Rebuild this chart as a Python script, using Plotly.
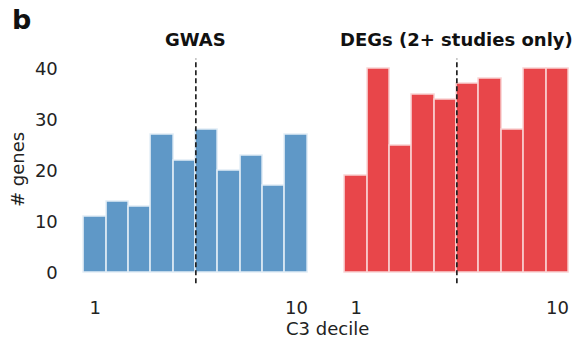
import plotly.graph_objects as go

deciles = list(range(1, 11))
gwas_counts = [11, 14, 13, 27, 22, 28, 20, 23, 17, 27]
deg_counts = [19, 40, 25, 35, 34, 37, 38, 28, 40, 40]
titles = ["GWAS", "DEGs (2+ studies only)"]
split = 5.5

BLUE = "#5f98c7"
RED = "#e8464a"
FONT = "DejaVu Sans"

fig = go.Figure()
fig.add_trace(go.Bar(x=deciles, y=gwas_counts, width=1, xaxis="x", yaxis="y",
                     marker=dict(color=BLUE, line=dict(color="#e2edf6", width=1.5))))
fig.add_trace(go.Bar(x=deciles, y=deg_counts, width=1, xaxis="x2", yaxis="y2",
                     marker=dict(color=RED, line=dict(color="#f9d3d4", width=1.5))))

ydom = [0.172, 0.828]
xcommon = dict(range=[0, 11], tickvals=[1, 10], ticktext=["1", "10"], showgrid=False,
               zeroline=False, showline=False, ticks="", ticklabelstandoff=12,
               tickfont=dict(family=FONT, size=18, color="#222"))
fig.update_layout(
    width=584, height=342, margin=dict(l=0, r=0, t=0, b=0),
    plot_bgcolor="white", paper_bgcolor="white", showlegend=False, bargap=0,
    font=dict(family=FONT, color="#222"),
    xaxis=dict(domain=[0.1247, 0.546], anchor="y", **xcommon),
    xaxis2=dict(domain=[0.5716, 0.993], anchor="y2", **xcommon),
    yaxis=dict(domain=ydom, range=[-2, 42], tickvals=[0, 10, 20, 30, 40], showgrid=False,
               zeroline=False, showline=False, ticks="", ticklabelstandoff=14,
               tickfont=dict(family=FONT, size=18, color="#222"), anchor="x"),
    yaxis2=dict(domain=ydom, range=[-2, 42], showticklabels=False, showgrid=False,
                zeroline=False, showline=False, ticks="", anchor="x2"),
)

for xr, yr in [("x", "y"), ("x2", "y2")]:
    fig.add_shape(type="line", xref=xr, yref=yr + " domain", x0=split, x1=split, y0=0, y1=1,
                  line=dict(color="#222", width=1.7, dash="5px,3px"))

for xr, t in zip(["x", "x2"], titles):
    fig.add_annotation(text="<b>%s</b>" % t, xref=xr, yref="paper", x=split, y=1 - 39 / 342,
                       showarrow=False, font=dict(family=FONT, size=18, color="#111"),
                       xanchor="center", yanchor="middle")

fig.add_annotation(text="<b>b</b>", xref="paper", yref="paper", x=21 / 584, y=1 - 19 / 342,
                   showarrow=False, font=dict(family=FONT, size=27, color="#111"),
                   xanchor="center", yanchor="middle")
fig.add_annotation(text="# genes", xref="paper", yref="paper", x=18 / 584, y=1 - 170 / 342,
                   textangle=-90, showarrow=False, font=dict(family=FONT, size=18, color="#222"),
                   xanchor="center", yanchor="middle")
fig.add_annotation(text="C3 decile", xref="paper", yref="paper", x=327 / 584, y=1 - 328 / 342,
                   showarrow=False, font=dict(family=FONT, size=18, color="#222"),
                   xanchor="center", yanchor="middle")

fig.write_html("out.html", config={"displayModeBar": False},
               post_script="document.body.style.margin='0';document.body.style.overflow='hidden';")
